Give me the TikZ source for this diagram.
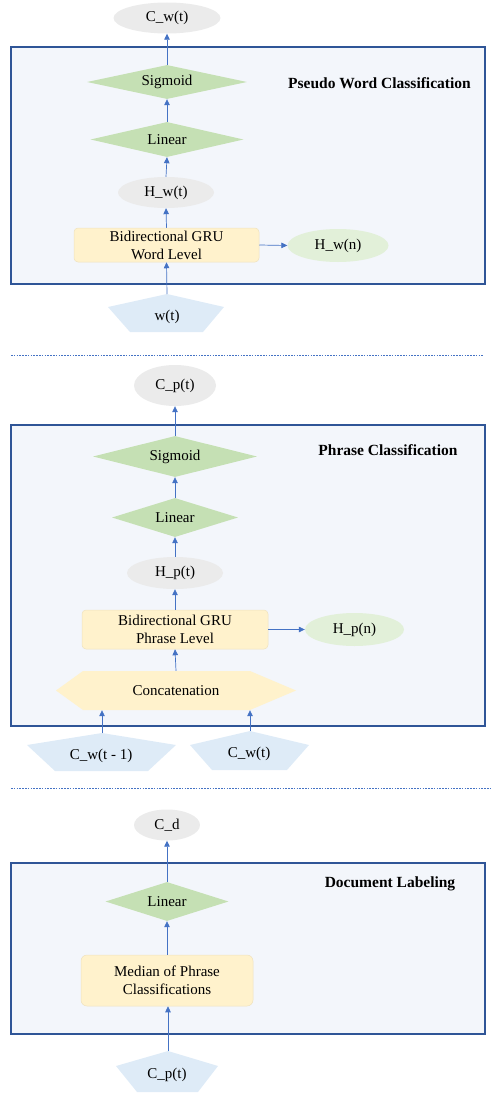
\documentclass[tikz,border=0pt]{standalone}
\usepackage{fontspec}
\setmainfont{Liberation Serif}
\usetikzlibrary{shapes.geometric,arrows.meta}
\definecolor{cboxfill}{HTML}{F3F6FB}
\definecolor{cboxline}{HTML}{2F5597}
\definecolor{cdia}{HTML}{C5E0B4}
\definecolor{cgray}{HTML}{EBEBEB}
\definecolor{cgreen}{HTML}{E2F0D9}
\definecolor{cyel}{HTML}{FFF2CC}
\definecolor{cyelline}{HTML}{EFE2BE}
\definecolor{cpent}{HTML}{DEEBF7}
\definecolor{carr}{HTML}{4472C4}
\begin{document}
\begin{tikzpicture}[x=1pt,y=-1pt,
  font=\fontsize{15}{18}\selectfont,
  panel/.style={draw=cboxline, line width=1.2pt, fill=cboxfill},
  diabox/.style={diamond, fill=cdia, inner sep=0pt, aspect=4},
  grayell/.style={ellipse, fill=cgray, inner sep=0pt},
  greenell/.style={ellipse, fill=cgreen, inner sep=0pt},
  ybox/.style={rectangle, rounded corners=4pt, fill=cyel, draw=cyelline, line width=0.5pt, align=center, inner sep=0pt},
  pentfill/.style={fill=cpent},
  flow/.style={draw=carr, line width=0.7pt, -{Triangle[length=6pt,width=5.5pt]}},
  title/.style={font=\fontsize{15.5}{18}\selectfont\bfseries},
  sepline/.style={draw=carr, line width=1.6pt, dash pattern=on 1.6pt off 1.2pt}]
\useasboundingbox (0,0) rectangle (490,1094);

% ---------- Section 1 ----------
\draw[panel] (11,47) rectangle (485,284);
\node[title] (t1) at (379.5,83) {Pseudo Word Classification};
\node[grayell, minimum width=107pt, minimum height=31pt] (cwt) at (167,18) {C\_w(t)};
\node[diabox, minimum width=160pt, minimum height=34pt] (sig1) at (167,82) {Sigmoid};
\node[diabox, minimum width=153pt, minimum height=35pt] (lin1) at (167,139.5) {Linear};
\node[grayell, minimum width=96pt, minimum height=31pt] (hwt) at (166,192.5) {H\_w(t)};
\node[ybox, minimum width=185pt, minimum height=34pt] (gru1) at (166.5,245) {Bidirectional GRU\\Word Level};
\node[greenell, minimum width=101pt, minimum height=33pt] (hwn) at (338,245.5) {H\_w(n)};
\fill[pentfill] (167,294) -- (224,307) -- (203,332) -- (130,332) -- (108,307) -- cycle;
\coordinate (wtapex) at (167,294);
\node (wt) at (167,317) {w(t)};
\draw[flow] (wtapex) -- (gru1.south);
\draw[flow] (gru1.north) -- (hwt.south);
\draw[flow] (hwt.north) -- (lin1.south);
\draw[flow] (lin1.north) -- (sig1.south);
\draw[flow] (sig1.north) -- (cwt.south);
\draw[flow] (gru1.east) -- (hwn.west);

\coordinate (s1a) at (11,355.5);
\coordinate (s1b) at (483,355.5);
\draw[sepline] (s1a) -- (s1b);

% ---------- Section 2 ----------
\draw[panel] (11,425) rectangle (485,726);
\node[title] (t2) at (388,450) {Phrase Classification};
\node[grayell, minimum width=82pt, minimum height=41pt] (cpt) at (175,385.5) {C\_p(t)};
\node[diabox, minimum width=164pt, minimum height=41pt] (sig2) at (175,456.5) {Sigmoid};
\node[diabox, minimum width=126pt, minimum height=39pt] (lin2) at (175,517.5) {Linear};
\node[grayell, minimum width=96pt, minimum height=32pt] (hpt) at (175,573) {H\_p(t)};
\node[ybox, minimum width=186pt, minimum height=39pt] (gru2) at (175,629.5) {Bidirectional GRU\\Phrase Level};
\node[greenell, minimum width=99pt, minimum height=33pt] (hpn) at (354.5,629.5) {H\_p(n)};
\fill[cyel] (56,690.5) -- (83,671) -- (250,671) -- (296,690.5) -- (250,710) -- (83,710) -- cycle;
\node[minimum width=240pt, minimum height=39pt, inner sep=0pt] (concat) at (176,690.5) {Concatenation};
\fill[pentfill] (102,733) -- (176,745) -- (148,771) -- (55,771) -- (27,745) -- cycle;
\coordinate (cwaapex) at (102,733);
\node (cwa) at (101,756) {C\_w(t - 1)};
\fill[pentfill] (250,731) -- (309,745) -- (287,770) -- (212,770) -- (190,745) -- cycle;
\coordinate (cwbapex) at (250,731);
\node (cwb) at (249,754) {C\_w(t)};
\draw[flow] (cwaapex) -- (cwaapex |- concat.south);
\draw[flow] (cwbapex) -- (cwbapex |- concat.south);
\draw[flow] (concat.north) -- (gru2.south);
\draw[flow] (gru2.north) -- (hpt.south);
\draw[flow] (hpt.north) -- (lin2.south);
\draw[flow] (lin2.north) -- (sig2.south);
\draw[flow] (sig2.north) -- (cpt.south);
\draw[flow] (gru2.east) -- (hpn.west);

\coordinate (s2a) at (11,788.5);
\coordinate (s2b) at (490,788.5);
\draw[sepline] (s2a) -- (s2b);

% ---------- Section 3 ----------
\draw[panel] (11,863) rectangle (485,1034);
\node[title] (t3) at (390,884) {Document Labeling};
\node[grayell, minimum width=66pt, minimum height=31pt] (cd) at (167,825) {C\_d};
\node[diabox, minimum width=123pt, minimum height=39pt] (lin3) at (167,901.5) {Linear};
\node[ybox, rounded corners=6pt, minimum width=172pt, minimum height=51pt] (med) at (167,980.5) {Median of Phrase\\Classifications};
\fill[pentfill] (168,1051) -- (218,1066) -- (198,1092) -- (137,1092) -- (116,1066) -- cycle;
\coordinate (cpapex) at (168,1051);
\node (cp) at (167,1075) {C\_p(t)};
\draw[flow] (cpapex) -- (cpapex |- med.south);
\draw[flow] (med.north) -- (lin3.south);
\draw[flow] (lin3.north) -- (cd.south);
\end{tikzpicture}
\end{document}
